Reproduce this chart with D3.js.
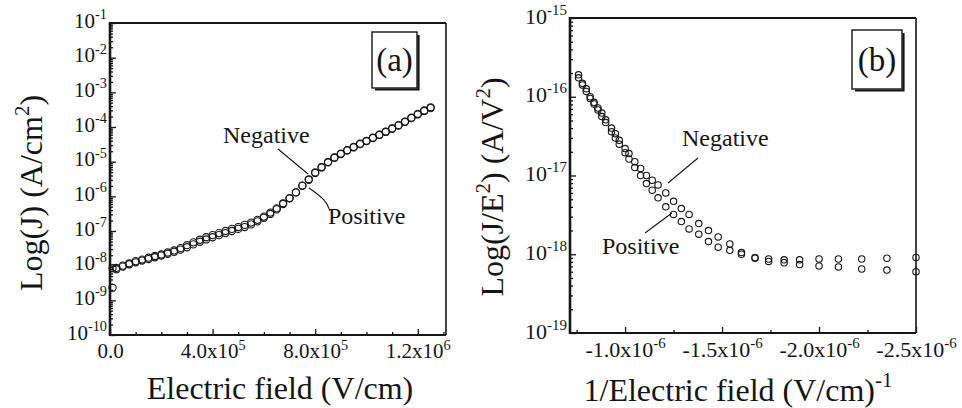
<html>
<head>
<script src="https://d3js.org/d3.v7.min.js"></script>
<style>
  body { margin: 0; background: #fff; }
  svg text, svg tspan { font-family: "Liberation Serif", "DejaVu Serif", serif; fill: #151515; }
  .axis path { display: none; }
  .axis line { stroke: #151515; stroke-width: 1.3; }
</style>
</head>
<body>
<svg id="fig" width="962" height="408" font-family="Liberation Serif"></svg>
<script>
// ---- panel (a): J vs E ----
var fieldA = [0.1e5, 0.25e5, 0.5e5, 0.75e5, 1.0e5, 1.25e5, 1.5e5, 1.75e5, 2.0e5, 2.25e5,
  2.5e5, 2.75e5, 3.0e5, 3.25e5, 3.5e5, 3.75e5, 4.0e5, 4.25e5, 4.5e5, 4.75e5,
  5.0e5, 5.25e5, 5.5e5, 5.75e5, 6.0e5, 6.25e5, 6.5e5, 6.75e5, 7.0e5, 7.25e5,
  7.5e5, 7.75e5, 8.0e5, 8.25e5, 8.5e5, 8.75e5, 9.0e5, 9.25e5, 9.5e5, 9.75e5,
  10.0e5, 10.25e5, 10.5e5, 10.75e5, 11.0e5, 11.25e5, 11.5e5, 11.75e5, 12.0e5, 12.25e5, 12.5e5];
var negJ = [8.5e-9, 7.9e-9, 1.0e-8, 1.17e-8, 1.35e-8, 1.5e-8, 1.7e-8, 1.9e-8, 2.1e-8, 2.4e-8,
  2.75e-8, 3.2e-8, 3.9e-8, 4.7e-8, 5.6e-8, 6.6e-8, 7.6e-8, 8.7e-8, 1.0e-7, 1.15e-7,
  1.3e-7, 1.5e-7, 1.75e-7, 2.1e-7, 2.6e-7, 3.4e-7, 4.5e-7, 6.3e-7, 8.9e-7, 1.3e-6,
  2.0e-6, 3.0e-6, 4.7e-6, 6.8e-6, 9.5e-6, 1.3e-5, 1.66e-5, 2.1e-5, 2.6e-5, 3.2e-5,
  3.9e-5, 4.8e-5, 5.9e-5, 7.2e-5, 8.9e-5, 1.1e-4, 1.4e-4, 1.8e-4, 2.3e-4, 2.9e-4, 3.5e-4];
var posJ = [2.3e-9, 8.6e-9, 9.4e-9, 1.1e-8, 1.25e-8, 1.4e-8, 1.55e-8, 1.75e-8, 1.95e-8, 2.2e-8,
  2.5e-8, 2.9e-8, 3.4e-8, 4.1e-8, 4.9e-8, 5.7e-8, 6.6e-8, 7.6e-8, 8.7e-8, 1.0e-7,
  1.15e-7, 1.3e-7, 1.55e-7, 1.9e-7, 2.4e-7, 3.1e-7, 4.2e-7, 6.0e-7, 8.7e-7, 1.3e-6,
  2.05e-6, 3.1e-6, 4.9e-6, 7.0e-6, 9.8e-6, 1.32e-5, 1.7e-5, 2.15e-5, 2.65e-5, 3.3e-5,
  4.0e-5, 4.9e-5, 6.0e-5, 7.4e-5, 9.1e-5, 1.13e-4, 1.43e-4, 1.85e-4, 2.4e-4, 3.0e-4, 3.7e-4];
var xTicksA = [0, 4e5, 8e5, 1.2e6];
var xLabelsA = [["0.0", ""], ["4.0x10", "5"], ["8.0x10", "5"], ["1.2x10", "6"]];
var yExpA = [-1, -2, -3, -4, -5, -6, -7, -8, -9, -10];

// ---- panel (b): J/E^2 vs 1/E ----
var invE = [-0.76e-6, -0.78e-6, -0.80e-6, -0.82e-6, -0.84e-6, -0.86e-6, -0.88e-6, -0.90e-6, -0.93e-6, -0.95e-6,
  -0.97e-6, -1.00e-6, -1.02e-6, -1.05e-6, -1.08e-6, -1.11e-6, -1.14e-6, -1.17e-6, -1.21e-6, -1.25e-6,
  -1.29e-6, -1.33e-6, -1.38e-6, -1.43e-6, -1.48e-6, -1.54e-6, -1.60e-6, -1.67e-6, -1.74e-6, -1.82e-6,
  -1.90e-6, -2.00e-6, -2.10e-6, -2.22e-6, -2.35e-6, -2.50e-6];
var negFN = [1.74e-16, 1.48e-16, 1.26e-16, 1.0e-16, 8.5e-17, 7.2e-17, 6.2e-17, 5.1e-17, 4.0e-17, 3.4e-17,
  2.8e-17, 2.2e-17, 1.9e-17, 1.5e-17, 1.23e-17, 1.0e-17, 8.7e-18, 7.6e-18, 6.0e-18, 4.7e-18,
  3.8e-18, 3.2e-18, 2.45e-18, 2.0e-18, 1.66e-18, 1.35e-18, 1.05e-18, 9.1e-19, 8.7e-19, 8.5e-19,
  8.5e-19, 8.7e-19, 8.7e-19, 8.7e-19, 8.9e-19, 9.1e-19];
var posFN = [1.9e-16, 1.41e-16, 1.17e-16, 9.5e-17, 8.1e-17, 6.8e-17, 5.6e-17, 4.7e-17, 3.6e-17, 3.0e-17,
  2.5e-17, 1.95e-17, 1.62e-17, 1.26e-17, 1.0e-17, 7.9e-18, 6.5e-18, 5.2e-18, 4.0e-18, 3.2e-18,
  2.6e-18, 2.1e-18, 1.8e-18, 1.45e-18, 1.23e-18, 1.12e-18, 1.0e-18, 8.9e-19, 8.1e-19, 7.8e-19,
  7.4e-19, 7.1e-19, 6.9e-19, 6.5e-19, 6.3e-19, 6.0e-19];
var xTicksB = [-1.0e-6, -1.5e-6, -2.0e-6, -2.5e-6];
var xLabelsB = [["-1.0x10", "-6"], ["-1.5x10", "-6"], ["-2.0x10", "-6"], ["-2.5x10", "-6"]];
var yExpB = [-15, -16, -17, -18, -19];

var svg = d3.select("#fig");

function sup(t, base, exp, size) {
  t.attr("font-size", size);
  t.append("tspan").text(base);
  if (exp) t.append("tspan").attr("dy", -size * 0.4).attr("font-size", size * 0.68).text(exp);
}

function minorLog(lo, hi) {
  var out = [];
  for (var d = lo; d < hi; d++)
    for (var m = 2; m <= 9; m++) out.push(m * Math.pow(10, d));
  return out;
}

function panel(o) {
  var g = svg.append("g");
  var x = d3.scaleLinear().domain(o.xDomain).range([o.left, o.right]);
  var y = d3.scaleLog().domain(o.yDomain).range([o.bottom, o.top]);

  // minor / major ticks, pointing inward
  g.append("g").attr("class", "axis").attr("transform", "translate(" + o.left + ",0)")
    .call(d3.axisLeft(y).tickValues(minorLog(Math.log10(o.yDomain[0]), Math.log10(o.yDomain[1]))).tickSize(-3).tickFormat(""));
  var ya = g.append("g").attr("class", "axis").attr("transform", "translate(" + o.left + ",0)")
    .call(d3.axisLeft(y).tickValues(o.yExp.map(function(e) { return Math.pow(10, e); })).tickSize(-6).tickFormat(""));
  ya.selectAll(".tick").append("text")
    .attr("x", -3).attr("y", o.yLabDy).attr("text-anchor", "end")
    .each(function(d) { sup(d3.select(this), "10", String(Math.round(Math.log10(d))), o.tickSize); });

  g.append("g").attr("class", "axis").attr("transform", "translate(0," + o.bottom + ")")
    .call(d3.axisBottom(x).tickValues(o.xMinor).tickSize(-3).tickFormat(""));
  var xa = g.append("g").attr("class", "axis").attr("transform", "translate(0," + o.bottom + ")")
    .call(d3.axisBottom(x).tickValues(o.xTicks).tickSize(-6).tickFormat(""));
  xa.selectAll(".tick").append("text")
    .attr("y", o.xLabY).attr("text-anchor", "middle")
    .each(function(d, i) { sup(d3.select(this), o.xLabels[i][0], o.xLabels[i][1], o.tickSize); });

  // frame
  g.append("line").attr("x1", o.left).attr("x2", o.left).attr("y1", o.top - 1).attr("y2", o.bottom + 1)
    .attr("stroke", "#151515").attr("stroke-width", 2.6);
  g.append("line").attr("x1", o.left).attr("x2", o.right).attr("y1", o.bottom).attr("y2", o.bottom)
    .attr("stroke", "#151515").attr("stroke-width", 2);
  g.append("line").attr("x1", o.left).attr("x2", o.right).attr("y1", o.top).attr("y2", o.top)
    .attr("stroke", "#151515").attr("stroke-width", 1.8);
  g.append("line").attr("x1", o.right).attr("x2", o.right).attr("y1", o.top).attr("y2", o.bottom)
    .attr("stroke", "#151515").attr("stroke-width", 1.6);

  // data
  o.series.forEach(function(s) {
    g.selectAll(null).data(s).enter().append("circle")
      .attr("cx", function(d, i) { return x(o.xs[i]); })
      .attr("cy", function(d) { return y(d); })
      .attr("r", o.r)
      .attr("fill", "none").attr("stroke", "#151515").attr("stroke-width", 1.1);
  });

  // panel tag box
  var b = o.box;
  g.append("rect").attr("x", b[0]).attr("y", b[1]).attr("width", b[2]).attr("height", b[3])
    .attr("fill", "#fff").attr("stroke", "#151515").attr("stroke-width", 1.4);
  g.append("polyline")
    .attr("points", [[b[0] + 3, b[1] + b[3] + 1.5], [b[0] + b[2] + 1.5, b[1] + b[3] + 1.5], [b[0] + b[2] + 1.5, b[1] + 3]].join(" "))
    .attr("fill", "none").attr("stroke", "#151515").attr("stroke-width", 2.2);
  g.append("text").attr("x", b[0] + b[2] / 2).attr("y", b[1] + b[3] / 2 + 11)
    .attr("text-anchor", "middle").attr("font-size", 33).text(o.tag);

  // annotations
  o.notes.forEach(function(n) {
    g.append("text").attr("x", n.tx).attr("y", n.ty).attr("font-size", 24).text(n.text);
    g.append("path").attr("d", d3.line().curve(d3.curveBasis)(n.pts))
      .attr("fill", "none").attr("stroke", "#151515").attr("stroke-width", 1.1);
  });

  // axis titles
  var xt = g.append("text").attr("x", o.xTitle[0]).attr("y", o.xTitle[1]).attr("text-anchor", "middle");
  o.xTitleParts(xt);
  var yt = g.append("text").attr("text-anchor", "middle")
    .attr("transform", "translate(" + o.yTitle[0] + "," + o.yTitle[1] + ") rotate(-90)");
  o.yTitleParts(yt);
}

var xMinorA = [];
for (var k = 1; k <= 13; k++) if (k % 4) xMinorA.push(k * 1e5);

panel({
  left: 110, right: 446, top: 23, bottom: 335,
  xDomain: [0, 1.31e6], yDomain: [1e-10, 1e-1],
  yExp: yExpA, xTicks: xTicksA, xLabels: xLabelsA, xMinor: xMinorA,
  tickSize: 21, yLabDy: 4, xLabY: 23,
  xs: fieldA, series: [negJ, posJ], r: 3.6,
  box: [372, 32, 45, 56], tag: "(a)",
  notes: [
    { text: "Negative", tx: 223, ty: 143, pts: [[278, 149], [308, 174]] },
    { text: "Positive", tx: 328, ty: 224, pts: [[330, 211], [326, 200], [309, 188]] }
  ],
  xTitle: [280, 399],
  xTitleParts: function(t) { t.attr("font-size", 32).text("Electric field (V/cm)"); },
  yTitle: [42, 193],
  yTitleParts: function(t) {
    t.attr("font-size", 32);
    t.append("tspan").text("Log(J) (A/cm");
    t.append("tspan").attr("dy", -13).attr("font-size", 21).text("2");
    t.append("tspan").attr("dy", 13).text(")");
  }
});

panel({
  left: 570, right: 916, top: 18, bottom: 333,
  xDomain: [-0.716e-6, -2.5e-6], yDomain: [1e-19, 1e-15],
  yExp: yExpB, xTicks: xTicksB, xLabels: xLabelsB, xMinor: [-0.75e-6, -1.25e-6, -1.75e-6, -2.25e-6],
  tickSize: 22, yLabDy: 5, xLabY: 24,
  xs: invE, series: [negFN, posFN], r: 3.2,
  box: [852, 30, 50, 59], tag: "(b)",
  notes: [
    { text: "Negative", tx: 682, ty: 146, pts: [[698, 158], [668, 183]] },
    { text: "Positive", tx: 602, ty: 254, pts: [[645, 233], [672, 213]] }
  ],
  xTitle: [738, 401],
  xTitleParts: function(t) {
    t.attr("font-size", 32);
    t.append("tspan").text("1/Electric field (V/cm)");
    t.append("tspan").attr("dy", -14).attr("font-size", 21).text("-1");
  },
  yTitle: [503, 187],
  yTitleParts: function(t) {
    t.attr("font-size", 32);
    t.append("tspan").text("Log(J/E");
    t.append("tspan").attr("dy", -13).attr("font-size", 21).text("2");
    t.append("tspan").attr("dy", 13).text(") (A/V");
    t.append("tspan").attr("dy", -13).attr("font-size", 21).text("2");
    t.append("tspan").attr("dy", 13).text(")");
  }
});
</script>
</body>
</html>
